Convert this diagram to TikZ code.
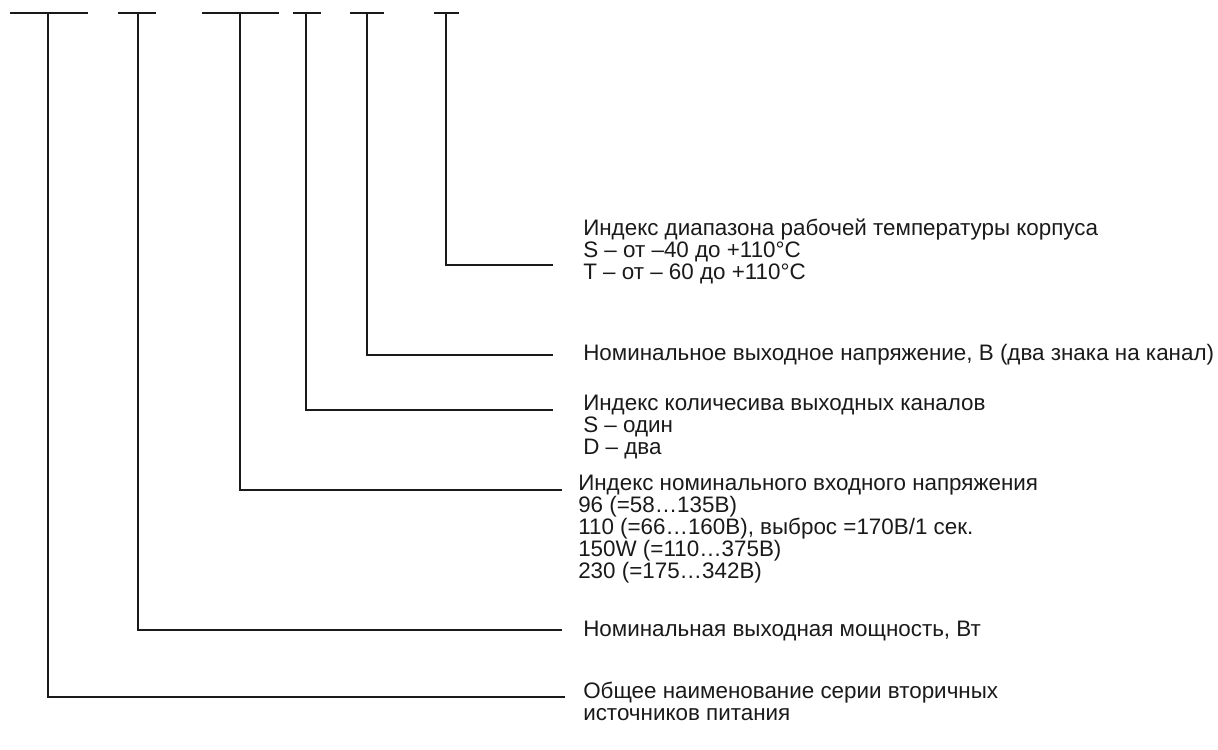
\documentclass[tikz,border=0pt]{standalone}
\usepackage{fontspec}
\setmainfont{Liberation Sans}
\usetikzlibrary{positioning}
\definecolor{ink}{HTML}{1A1A1A}

\begin{document}
\begin{tikzpicture}[x=0.75pt, y=-0.75pt,
  font=\fontsize{16.8}{16.5}\selectfont,
  lbl/.style={anchor=north west, inner sep=0pt, align=left, text=ink},
  lead/.style={draw=ink, line width=1.3pt},
  slot/.style={draw=ink, line width=1.3pt}]
  \useasboundingbox (0,0) rectangle (1218,750);
  % code positions
  \draw[slot] (10,13) -- (88,13);   \coordinate (c1) at (48,13);
  \draw[slot] (118,13) -- (156,13); \coordinate (c2) at (138,13);
  \draw[slot] (202,13) -- (279,13); \coordinate (c3) at (240,13);
  \draw[slot] (293,13) -- (321,13); \coordinate (c4) at (306,13);
  \draw[slot] (350,13) -- (384,13); \coordinate (c5) at (367,13);
  \draw[slot] (434,13) -- (459,13); \coordinate (c6) at (446,13);
  % legends
  \node[lbl] (temp) at (583,219) {Индекс диапазона рабочей температуры корпуса\\S – от –40 до +110°C\\T – от – 60 до +110°C};
  \node[lbl] (uout) at (583,343.5) {Номинальное выходное напряжение, В (два знака на канал)};
  \node[lbl] (chan) at (583,394.5) {Индекс количесива выходных каналов\\S – один\\D – два};
  \node[lbl] (uin)  at (578,474.5) {Индекс номинального входного напряжения\\96 (=58…135В)\\110 (=66…160В), выброс =170В/1 сек.\\150W (=110…375В)\\230 (=175…342В)};
  \node[lbl] (pout) at (583,620.5) {Номинальная выходная мощность, Вт};
  \node[lbl] (name) at (583,681.5) {Общее наименование серии вторичных\\источников питания};
  % leaders
  \coordinate (e6) at (553,265);
  \coordinate (e5) at (553,355);
  \coordinate (e4) at (553,410);
  \coordinate (e3) at (562,490);
  \coordinate (e2) at (562,630);
  \coordinate (e1) at (565,697);
  \draw[lead] (c6) |- (e6);
  \draw[lead] (c5) |- (e5);
  \draw[lead] (c4) |- (e4);
  \draw[lead] (c3) |- (e3);
  \draw[lead] (c2) |- (e2);
  \draw[lead] (c1) |- (e1);
\end{tikzpicture}
\end{document}
